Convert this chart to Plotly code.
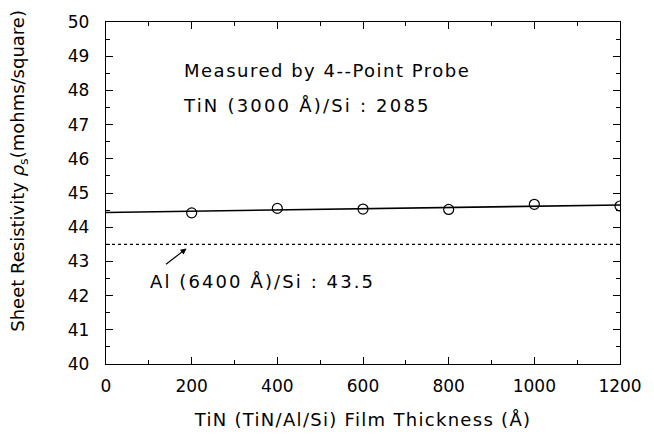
import plotly.graph_objects as go

thickness = [200, 400, 600, 800, 1000, 1200]
resistivity = [44.42, 44.55, 44.53, 44.52, 44.67, 44.62]
fit_x = [0, 1200]
fit_y = [44.43, 44.65]
al_x = [0, 1200]
al_y = [43.5, 43.5]

FONT = "DejaVu Sans"
fig = go.Figure()
fig.add_trace(go.Scatter(x=fit_x, y=fit_y, mode="lines",
                         line=dict(color="black", width=1.6), showlegend=False))
fig.add_trace(go.Scatter(x=al_x, y=al_y, mode="lines",
                         line=dict(color="black", width=1.3, dash="dot"), showlegend=False))
fig.add_trace(go.Scatter(x=thickness, y=resistivity, mode="markers",
                         marker=dict(symbol="circle-open", size=10, color="black",
                                     line=dict(width=1.2)), showlegend=False))

axis_common = dict(showgrid=False, zeroline=False, showline=True, linecolor="black",
                   linewidth=1.4, mirror="ticks", ticks="inside", tickcolor="black",
                   tickfont=dict(family=FONT, size=17, color="black"))
fig.update_xaxes(range=[0, 1200], tickvals=[0, 200, 400, 600, 800, 1000, 1200],
                 ticklen=7, tickwidth=1, ticklabelstandoff=6,
                 minor=dict(ticks="inside", ticklen=4, dtick=100, tickcolor="black"),
                 title=dict(text="<span style='letter-spacing:1.3px'>TiN (TiN/Al/Si) Film Thickness (Å)</span>",
                            font=dict(family=FONT, size=18, color="black"), standoff=18),
                 **axis_common)
fig.update_yaxes(range=[40, 50], dtick=1, ticklen=7, tickwidth=1, ticklabelstandoff=12,
                 minor=dict(ticks="inside", ticklen=4, dtick=0.5, tickcolor="black"),
                 **axis_common)

# y-axis title placed as a rotated annotation (positioned to match the reference)
fig.add_annotation(xref="paper", yref="paper", x=0, y=0.565, xshift=-87,
                   text="Sheet Resistivity <i>ρ</i><sub>s</sub>(mohms/square)",
                   textangle=-90, showarrow=False, xanchor="center", yanchor="middle",
                   font=dict(family=FONT, size=18, color="black"))

txtfont = dict(family=FONT, size=18, color="black")
fig.add_annotation(x=178, y=48.58,
                   text="<span style='letter-spacing:1.5px'>Measured by 4--Point Probe</span>",
                   showarrow=False, xanchor="left", yanchor="middle", font=txtfont)
fig.add_annotation(x=176, y=47.57,
                   text="<span style='letter-spacing:2.2px'>TiN (3000 Å)/Si : 2085</span>",
                   showarrow=False, xanchor="left", yanchor="middle", font=txtfont)
fig.add_annotation(x=98, y=42.4,
                   text="<span style='letter-spacing:2.1px'>Al (6400 Å)/Si : 43.5</span>",
                   showarrow=False, xanchor="left", yanchor="middle", font=txtfont)
fig.add_annotation(x=188, y=43.38, ax=-22, ay=17, text="", showarrow=True,
                   arrowhead=2, arrowsize=1, arrowwidth=1.2, arrowcolor="black")

fig.update_layout(width=654, height=442, margin=dict(l=106, r=26, t=18, b=78),
                  plot_bgcolor="white", paper_bgcolor="white")
fig.write_html("out.html")
